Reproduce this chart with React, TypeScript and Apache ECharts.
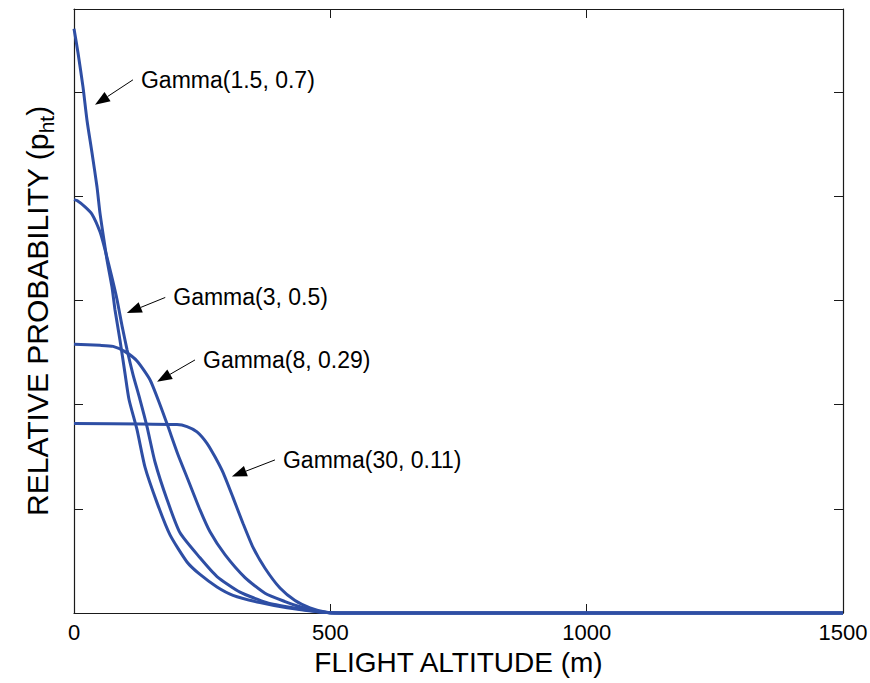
import React, { useEffect, useRef } from 'react';
import * as echarts from 'echarts';

// Flight altitude (m) and relative probability values
const gamma15X = [0, 7.8, 17.6, 25.4, 35.1, 44.9, 50.7, 58.5, 64.4, 74.1, 80, 89.7, 99.5, 107.3, 122.9, 138.5, 161.9, 187.3, 220.4, 245.8, 278.9, 310.1, 362.8, 415.5, 479.9, 519, 1500];
const gamma15Y = [5.61, 5.38, 5.05, 4.73, 4.42, 4.09, 3.84, 3.58, 3.39, 3.13, 2.91, 2.62, 2.3, 2.05, 1.76, 1.4, 1.06, 0.75, 0.49, 0.37, 0.25, 0.17, 0.1, 0.05, 0.01, 0, 0];

const gamma3X = [0, 5.9, 21.5, 35.1, 50.7, 60.5, 74.1, 83.9, 93.6, 103.4, 115.1, 128.7, 142.4, 158, 181.4, 206.8, 245.8, 278.9, 323.8, 376.5, 427.2, 479.9, 519, 1500];
const gamma3Y = [3.97, 3.96, 3.9, 3.83, 3.66, 3.49, 3.22, 3.01, 2.76, 2.53, 2.29, 2.05, 1.79, 1.45, 1.09, 0.77, 0.53, 0.35, 0.2, 0.1, 0.05, 0.01, 0, 0];

const gamma8X = [0, 50.7, 76.1, 99.5, 122.9, 148.2, 167.8, 183.4, 202.9, 222.4, 245.8, 265.3, 294.5, 333.6, 372.6, 411.6, 440.8, 474, 509, 1500];
const gamma8Y = [2.58, 2.57, 2.56, 2.51, 2.42, 2.24, 2.0, 1.79, 1.52, 1.28, 0.99, 0.78, 0.56, 0.34, 0.19, 0.11, 0.06, 0.02, 0, 0];

const gamma30X = [0, 200.9, 220.4, 239.9, 259.4, 275, 290.6, 310.1, 329.7, 349.2, 372.6, 401.8, 431.1, 460.3, 489.6, 509, 1500];
const gamma30Y = [1.82, 1.81, 1.79, 1.74, 1.63, 1.5, 1.35, 1.11, 0.86, 0.63, 0.43, 0.24, 0.12, 0.05, 0.01, 0, 0];

const xTickValues = [0, 500, 1000, 1500];

// Annotations (data coordinates)
const annotationTexts = ['Gamma(1.5, 0.7)', 'Gamma(3, 0.5)', 'Gamma(8, 0.29)', 'Gamma(30, 0.11)'];
const arrowFrom = [[115, 5.12], [178, 3.03], [236, 2.43], [392, 1.47]];
const arrowTo = [[41, 4.88], [103, 2.88], [162, 2.22], [308, 1.31]];

const FONT = '"Liberation Sans", Arial, Helvetica, sans-serif';
const LINE_COLOR = '#2e4ea4';
const AXIS_COLOR = '#1a1a1a';

function pairs(xs: number[], ys: number[]) {
  return xs.map((x, i) => [x, ys[i]]);
}

export default function App() {
  const ref = useRef<HTMLDivElement>(null);

  useEffect(() => {
    if (!ref.current) return;
    const chart = echarts.init(ref.current, undefined, { renderer: 'svg' });

    const axisCommon = {
      type: 'value' as const,
      axisLine: { show: true, onZero: false, lineStyle: { color: AXIS_COLOR, width: 1.2 } },
      axisTick: { show: true, inside: true, length: 9, lineStyle: { color: AXIS_COLOR, width: 1 } },
      splitLine: { show: false },
    };

    const seriesData = [
      pairs(gamma15X, gamma15Y),
      pairs(gamma3X, gamma3Y),
      pairs(gamma8X, gamma8Y),
      pairs(gamma30X, gamma30Y),
    ];

    chart.setOption({
      animation: false,
      backgroundColor: '#ffffff',
      grid: { left: 74, right: 27, top: 9, bottom: 70, containLabel: false, outerBoundsMode: 'none' },
      xAxis: [
        {
          ...axisCommon,
          position: 'bottom',
          min: xTickValues[0],
          max: xTickValues[xTickValues.length - 1],
          interval: xTickValues[1] - xTickValues[0],
          axisLabel: {
            show: true,
            fontSize: 22,
            color: '#000',
            fontFamily: FONT,
            margin: 8,
            formatter: (v: number) => String(v),
          },
          name: 'FLIGHT ALTITUDE (m)',
          nameLocation: 'middle',
          nameGap: 35,
          nameTextStyle: { fontSize: 28, color: '#000', fontFamily: FONT },
        },
        {
          ...axisCommon,
          position: 'top',
          min: xTickValues[0],
          max: xTickValues[xTickValues.length - 1],
          interval: xTickValues[1] - xTickValues[0],
          axisLabel: { show: false },
        },
      ],
      yAxis: [
        {
          ...axisCommon,
          position: 'left',
          min: 0,
          max: 5.8,
          interval: 1,
          axisLabel: { show: false },
          name: 'RELATIVE PROBABILITY (p{sub|ht})',
          nameLocation: 'middle',
          nameGap: 17,
          nameTextStyle: {
            fontSize: 30,
            color: '#000',
            fontFamily: FONT,
            lineHeight: 34,
            rich: {
              sub: { fontSize: 21, fontFamily: FONT, color: '#000', verticalAlign: 'bottom', lineHeight: 40 },
            },
          },
        },
        {
          ...axisCommon,
          position: 'right',
          min: 0,
          max: 5.8,
          interval: 1,
          axisLabel: { show: false },
        },
      ],
      series: seriesData.map((d, i) => ({
        type: 'line',
        name: annotationTexts[i],
        data: d,
        xAxisIndex: 0,
        yAxisIndex: 0,
        showSymbol: false,
        symbol: 'none',
        smooth: 0.2,
        clip: false,
        lineStyle: { color: LINE_COLOR, width: 3 },
        z: 3,
      })),
    });

    // Annotation arrows and texts positioned via the chart's own scales
    const graphics: any[] = [];
    annotationTexts.forEach((txt, i) => {
      const p0 = chart.convertToPixel({ xAxisIndex: 0, yAxisIndex: 0 }, arrowFrom[i]) as number[];
      const p1 = chart.convertToPixel({ xAxisIndex: 0, yAxisIndex: 0 }, arrowTo[i]) as number[];
      const dx = p1[0] - p0[0];
      const dy = p1[1] - p0[1];
      const len = Math.sqrt(dx * dx + dy * dy);
      const ux = dx / len;
      const uy = dy / len;
      const L = 15;
      const W = 5.5;
      const bx = p1[0] - ux * L;
      const by = p1[1] - uy * L;
      const px = -uy;
      const py = ux;
      graphics.push({
        type: 'line',
        shape: { x1: p0[0], y1: p0[1], x2: bx, y2: by },
        style: { stroke: '#000', lineWidth: 1 },
        z: 10,
      });
      graphics.push({
        type: 'polygon',
        shape: {
          points: [
            [p1[0], p1[1]],
            [bx + px * W, by + py * W],
            [bx - px * W, by - py * W],
          ],
        },
        style: { fill: '#000' },
        z: 10,
      });
      graphics.push({
        type: 'text',
        x: p0[0] + 8,
        y: p0[1],
        style: {
          text: txt,
          fontSize: 23,
          fontFamily: FONT,
          fill: '#000',
          align: 'left',
          verticalAlign: 'middle',
        },
        z: 10,
      });
    });
    chart.setOption({ graphic: graphics });

    return () => {
      chart.dispose();
    };
  }, []);

  return (
    <div
      ref={ref}
      style={{ position: 'absolute', left: 0, top: 0, width: 870, height: 683 }}
    />
  );
}
